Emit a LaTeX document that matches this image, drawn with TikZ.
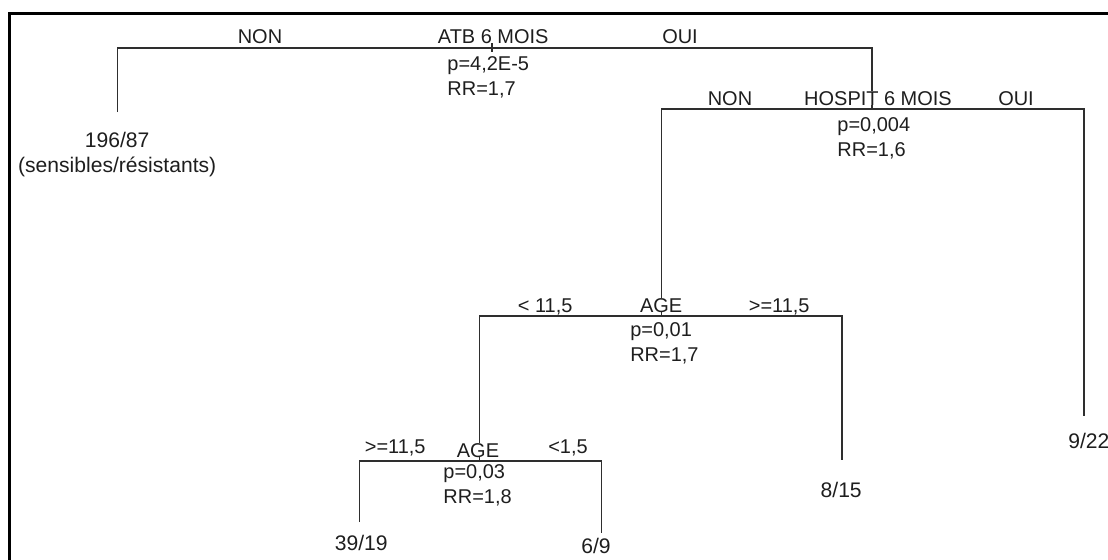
\documentclass[tikz,border=0pt]{standalone}
\usepackage{fontspec}
\setmainfont{Liberation Sans}
\definecolor{trait}{HTML}{2E2E2E}
\definecolor{texte}{HTML}{1E1E1E}
\usetikzlibrary{calc}

\begin{document}
\begin{tikzpicture}[font=\fontsize{14.2}{17.1}\selectfont,text=texte,
arete/.style={draw=trait,line width=0.9pt},
cadre/.style={draw=black,line width=2.2pt},
var/.style={fill=white,inner sep=0pt,anchor=base},
br/.style={inner sep=0pt,anchor=base},
stat/.style={inner sep=0pt,align=left,anchor=base west},
feuille/.style={inner sep=0pt,align=center,anchor=base,font=\fontsize{15}{17.1}\selectfont}]

\useasboundingbox (0,0) rectangle (27.7,-14);
\draw[cadre] (27.9,-0.34) -- (0.24,-0.34) -- (0.24,-14.2);

% points de coupure
\coordinate (s0) at (12.3,-1.2);
\coordinate (s0g) at (2.93,-1.2);
\coordinate (s0d) at (21.8,-1.2);
\coordinate (s1) at (21.8,-2.725);
\coordinate (s1g) at (16.53,-2.725);
\coordinate (s1d) at (27.1,-2.725);
\coordinate (s2) at (16.53,-7.9);
\coordinate (s2g) at (11.98,-7.9);
\coordinate (s2d) at (21.05,-7.9);
\coordinate (s3) at (11.98,-11.525);
\coordinate (s3g) at (8.98,-11.525);
\coordinate (s3d) at (15.03,-11.525);

% bouts des feuilles
\coordinate (f0) at (2.93,-2.8);
\coordinate (f1) at (27.1,-10.4);
\coordinate (f2) at (21.05,-11.5);
\coordinate (f3) at (8.98,-13.05);
\coordinate (f4) at (15.03,-13.33);

\draw[arete] (f0) -- (s0g) -- (s0d) -- (s1);
\draw[arete] (s2) -- (s1g) -- (s1d) -- (f1);
\draw[arete] (s3) -- (s2g) -- (s2d) -- (f2);
\draw[arete] (f3) -- (s3g) -- (s3d) -- (f4);

% racine
\node[br] (r0n) at (6.5,-1.075) {NON};
\node[var] (atb) at (12.33,-1.075) {ATB 6 MOIS};
\node[br] (r0o) at (17.0,-1.075) {OUI};
\node[stat] (p0) at (11.18,-2.375) {p=4,2E-5\\RR=1,7};
\draw[arete] (atb.base -| s0) -- ([yshift=-3pt]s0);

% hospit
\node[br] (r1n) at (18.25,-2.625) {NON};
\node[var] (hosp) at (21.95,-2.625) {HOSPIT 6 MOIS};
\node[br] (r1o) at (25.4,-2.625) {OUI};
\node[stat] (p1) at (20.93,-3.9) {p=0,004\\RR=1,6};

% age 1
\node[br] (r2g) at (13.63,-7.8) {< 11,5};
\node[var] (age1) at (16.53,-7.8) {AGE};
\node[br] (r2d) at (19.48,-7.8) {>=11,5};
\node[stat] (p2) at (15.75,-9.025) {p=0,01\\RR=1,7};

% age 2
\node[br] (r3g) at (9.88,-11.325) {>=11,5};
\node[var] (age2) at (11.95,-11.425) {AGE};
\node[br] (r3d) at (14.2,-11.325) {<1,5};
\node[stat] (p3) at (11.08,-12.575) {p=0,03\\RR=1,8};

% feuilles
\node[feuille] (n0) at (2.93,-4.3) {196/87\\(sensibles/résistants)};
\node[feuille] (n1) at (27.22,-11.2) {9/22};
\node[feuille] (n2) at (21.03,-12.43) {8/15};
\node[feuille] (n3) at (9.03,-13.75) {39/19};
\node[feuille] (n4) at (14.9,-13.83) {6/9};
\end{tikzpicture}
\end{document}
